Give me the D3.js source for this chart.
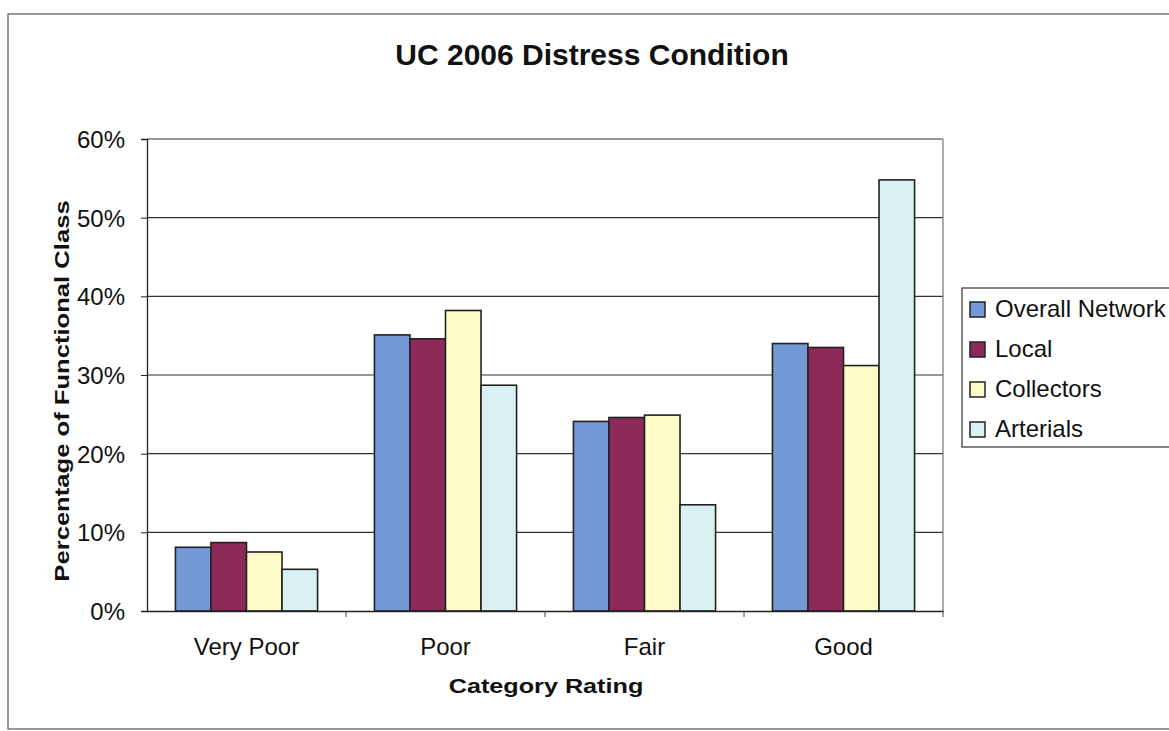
<!DOCTYPE html>
<html><head><meta charset="utf-8">
<script src="https://cdn.jsdelivr.net/npm/d3@7"></script>
<style>body{margin:0;background:#fff;} svg{display:block;font-family:"Liberation Sans",Arial,sans-serif;}</style>
</head><body>
<script>
const categories = ["Very Poor", "Poor", "Fair", "Good"];
const seriesNames = ["Overall Network", "Local", "Collectors", "Arterials"];
const overallNetwork = [0.081, 0.351, 0.241, 0.340];
const local = [0.087, 0.346, 0.246, 0.335];
const collectors = [0.075, 0.382, 0.249, 0.312];
const arterials = [0.053, 0.287, 0.135, 0.548];
const yTicks = [0, 0.1, 0.2, 0.3, 0.4, 0.5, 0.6];
const colors = ["#7399d6", "#8e2a5a", "#fdfcc9", "#daf1f4"];
const seriesValues = [overallNetwork, local, collectors, arterials];

const W = 1169, H = 731;
const svg = d3.select("body").append("svg").attr("width", W).attr("height", H);
svg.append("rect").attr("width", W).attr("height", H).attr("fill", "#fff");

// outer chart border
svg.append("rect").attr("x", 8).attr("y", 14).attr("width", 1170).attr("height", 715)
  .attr("fill", "none").attr("stroke", "#555").attr("stroke-width", 1.2);

const m = {left: 147, top: 139, right: 943, bottom: 611};
const x0 = d3.scaleBand().domain(categories).range([m.left, m.right]).paddingInner(0).paddingOuter(0);
const x1 = d3.scaleBand().domain(seriesNames).range([0, x0.bandwidth()]).paddingOuter(0.8).paddingInner(0);
const y = d3.scaleLinear().domain([0, 0.6]).range([m.bottom, m.top]);

// gridlines
svg.append("g").selectAll("line").data(yTicks.filter(d => d > 0)).join("line")
  .attr("x1", m.left).attr("x2", m.right).attr("y1", d => y(d)).attr("y2", d => y(d))
  .attr("stroke", "#333").attr("stroke-width", 1.1);
// right border of plot
svg.append("line").attr("x1", m.right).attr("x2", m.right).attr("y1", m.top).attr("y2", m.bottom)
  .attr("stroke", "#777").attr("stroke-width", 1.2);

// bars
const groups = svg.append("g").selectAll("g").data(categories).join("g")
  .attr("transform", c => `translate(${x0(c)},0)`);
groups.selectAll("rect").data((c, i) => seriesNames.map((s, j) => ({s, j, v: seriesValues[j][i]}))).join("rect")
  .attr("x", d => x1(d.s)).attr("width", x1.bandwidth())
  .attr("y", d => y(d.v)).attr("height", d => y(0) - y(d.v))
  .attr("fill", d => colors[d.j]).attr("stroke", "#222").attr("stroke-width", 1.6);

// y axis
const yAxis = d3.axisLeft(y).tickValues(yTicks).tickFormat(d3.format(".0%")).tickSize(6).tickPadding(16);
const gy = svg.append("g").attr("transform", `translate(${m.left},0)`).call(yAxis);
gy.select(".domain").attr("stroke", "#222").attr("stroke-width", 1.3);
gy.selectAll(".tick line").attr("stroke", "#222");
gy.selectAll("text").attr("font-size", 24).attr("fill", "#111").attr("dy", "0.36em");

// x axis
const xAxis = d3.axisBottom(x0).tickSize(0).tickPadding(27);
const gx = svg.append("g").attr("transform", `translate(0,${m.bottom})`).call(xAxis);
gx.select(".domain").attr("stroke", "#222").attr("stroke-width", 1.3);
gx.selectAll("text").attr("font-size", 24).attr("fill", "#111");
// category boundary ticks
svg.append("g").selectAll("line").data(categories.slice(1).concat(["end"])).join("line")
  .attr("x1", (c, i) => i < 3 ? x0(c) : m.right).attr("x2", (c, i) => i < 3 ? x0(c) : m.right)
  .attr("y1", m.bottom).attr("y2", m.bottom + 6).attr("stroke", "#444");

// titles
svg.append("text").attr("x", 592).attr("y", 65).attr("text-anchor", "middle")
  .attr("font-size", 30).attr("font-weight", "bold").attr("fill", "#111").text("UC 2006 Distress Condition");
svg.append("text").attr("transform", "translate(546,693) scale(1.2,1)").attr("text-anchor", "middle")
  .attr("font-size", 21).attr("font-weight", "bold").attr("fill", "#111").text("Category Rating");
svg.append("text").attr("transform", `translate(69,391) rotate(-90) scale(1.22,1)`)
  .attr("text-anchor", "middle").attr("font-size", 21).attr("font-weight", "bold").attr("fill", "#111")
  .text("Percentage of Functional Class");

// legend
const lg = svg.append("g");
lg.append("rect").attr("x", 962).attr("y", 288).attr("width", 220).attr("height", 159)
  .attr("fill", "#fff").attr("stroke", "#444").attr("stroke-width", 1.3);
const items = lg.selectAll("g").data(seriesNames).join("g")
  .attr("transform", (d, i) => `translate(970,${317 + i * 40})`);
items.append("rect").attr("x", 0).attr("y", -15).attr("width", 15).attr("height", 15)
  .attr("fill", (d, i) => colors[i]).attr("stroke", "#222").attr("stroke-width", 1.5);
items.append("text").attr("x", 25).attr("y", 0).attr("font-size", 24).attr("fill", "#111").text(d => d);
</script>
</body></html>
